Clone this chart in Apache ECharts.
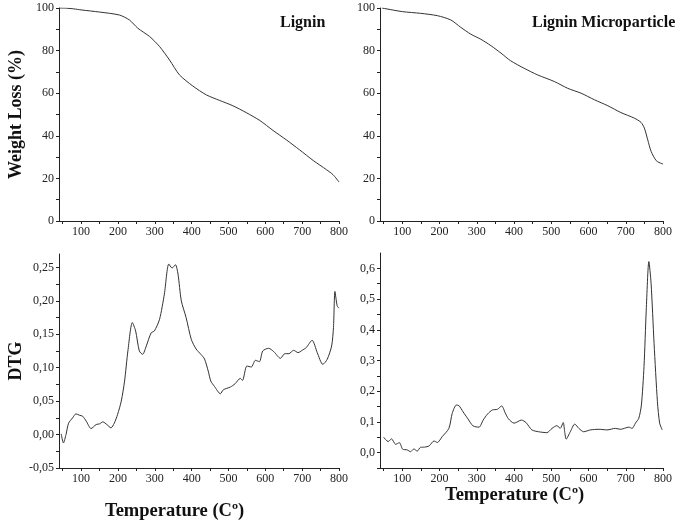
<!DOCTYPE html>
<html>
<head>
<meta charset="utf-8">
<script src="https://cdn.jsdelivr.net/npm/echarts@6/dist/echarts.min.js"></script>
<style>
html,body{margin:0;padding:0;background:#fff;}
#c{width:685px;height:524px;}
</style>
</head>
<body>
<div id="c"></div>
<script>
// ---- Data ----
var tgaLigninT = [41,60,80,100,150,204,231,254,286,313,340,367,403,440,476,512,548,585,621,657,693,730,766,784,800];
var tgaLigninV = [100,99.9,99.6,99.1,98.1,96.7,94.4,90.5,86.6,81.9,75.6,68.6,63.4,59.2,56.6,54.1,50.9,47.2,42.5,38.1,33.4,28.4,24.1,21.7,18.3];

var tgaMicroT = [45,100,149,194,230,257,284,311,338,365,391,427,463,508,544,580,616,652,687,723,741,750,759,768,782,797,800];
var tgaMicroV = [100,98.3,97.5,96.4,94.4,90.9,87.7,85.3,82.3,78.8,75.2,71.7,68.6,65.5,62.3,60,56.9,54.1,50.9,48.3,46.3,43.6,38.1,32.7,28.3,26.9,26.8];

var dtgLigninT = [46,52,59,66,77,86,95,104,114,127,141,150,159,170,181,190,199,209,218,227,239,248,258,267,277,290,299,313,326,338,347,356,363,372,385,399,412,425,435,445,452,462,478,486,505,518,532,538,550,562,573,584,593,609,623,641,653,664,677,689,700,711,727,741,756,768,780,785,789,795,800];
var dtgLigninV = [0.001,-0.0125,0,0.017,0.025,0.031,0.029,0.0275,0.02,0.009,0.015,0.016,0.019,0.015,0.01,0.017,0.03,0.05,0.08,0.125,0.1675,0.155,0.125,0.12,0.1325,0.152,0.155,0.1725,0.21,0.255,0.249,0.254,0.24,0.2,0.175,0.1425,0.128,0.12,0.113,0.095,0.08,0.072,0.061,0.067,0.071,0.076,0.084,0.081,0.1025,0.101,0.111,0.109,0.125,0.129,0.124,0.114,0.121,0.121,0.126,0.1225,0.126,0.13,0.141,0.1225,0.105,0.1125,0.1325,0.16,0.214,0.1925,0.189];

var dtgMicroT = [50,62,71,82,92,101,113,122,131,140,149,160,172,185,194,207,225,234,245,252,263,275,290,306,317,329,342,355,367,376,385,400,420,432,448,466,488,502,515,524,532,536,540,551,563,574,587,605,628,650,672,686,708,717,726,735,742,749,755,762,768,776,785,791,798];
var dtgMicroV = [0.05,0.036,0.045,0.027,0.0325,0.011,0.009,0.003,0.012,0.005,0.0175,0.018,0.022,0.038,0.033,0.052,0.079,0.128,0.155,0.153,0.133,0.112,0.087,0.083,0.106,0.126,0.139,0.141,0.152,0.13,0.11,0.096,0.106,0.098,0.074,0.068,0.065,0.079,0.088,0.079,0.098,0.068,0.044,0.068,0.093,0.079,0.068,0.074,0.076,0.074,0.079,0.076,0.083,0.079,0.096,0.112,0.155,0.28,0.464,0.622,0.551,0.356,0.166,0.096,0.074];

var xLabelValues = [100,200,300,400,500,600,700,800];
var xTickValues = [50,100,150,200,250,300,350,400,450,500,550,600,650,700,750,800];
var tgaLabelValues = [0,20,40,60,80,100];
var tgaTickValues = [0,10,20,30,40,50,60,70,80,90,100];
var dtgLigninLabels = [-0.05,0,0.05,0.1,0.15,0.2,0.25];
var dtgLigninTicks = [-0.05,-0.025,0,0.025,0.05,0.075,0.1,0.125,0.15,0.175,0.2,0.225,0.25];
var dtgMicroLabels = [0,0.1,0.2,0.3,0.4,0.5,0.6];
var dtgMicroTicks = [-0.05,0,0.05,0.1,0.15,0.2,0.25,0.3,0.35,0.4,0.45,0.5,0.55,0.6];

function zip(a,b){return a.map(function(v,i){return [v,b[i]];});}

var SERIF = '"Liberation Serif","DejaVu Serif",serif';
var lineCol = '#222';
var labelStyle = {fontFamily: SERIF, fontSize: 12, color: '#222'};

function xAx(gi){
  return {
    type:'value', gridIndex: gi, min:40, max:800,
    axisLine:{show:true, onZero:false, lineStyle:{color:lineCol,width:1}},
    axisTick:{show:true, inside:false, length:3, customValues:xTickValues, lineStyle:{color:lineCol}},
    axisLabel:Object.assign({margin:5, customValues:xLabelValues}, labelStyle),
    splitLine:{show:false}
  };
}
function yAx(gi, min, max, labels, ticks, fmt, name){
  var o = {
    type:'value', gridIndex: gi, min:min, max:max,
    axisLine:{show:true, onZero:false, lineStyle:{color:lineCol,width:1}},
    axisTick:{show:true, inside:false, length:3, customValues:ticks, lineStyle:{color:lineCol}},
    axisLabel:Object.assign({margin:5, customValues:labels, formatter:fmt}, labelStyle),
    splitLine:{show:false}
  };
  if (name) {
    o.name = name; o.nameLocation = 'middle'; o.nameGap = 34;
    o.nameTextStyle = {fontFamily: SERIF, fontSize: 18, fontWeight:'bold', color:'#111'};
  }
  return o;
}
function fmtInt(v){return String(Math.round(v));}
function fmt2(v){return (Math.abs(v)<1e-9?0:v).toFixed(2).replace('.',',');}
function fmt1(v){return (Math.abs(v)<1e-9?0:v).toFixed(1).replace('.',',');}

function ser(xi, d){
  return {type:'line', xAxisIndex:xi, yAxisIndex:xi, data:d, showSymbol:false, symbol:'none',
    smooth:0.25, lineStyle:{color:'#333', width:1}, animation:false};
}

var chart = echarts.init(document.getElementById('c'), null, {renderer:'canvas'});
chart.setOption({
  animation:false,
  backgroundColor:'#fff',
  grid:[
    {left:59, top:8, width:280, height:213},
    {left:380, top:8, width:283, height:213},
    {left:59, top:254, width:280, height:214},
    {left:380, top:253, width:283, height:215}
  ],
  title:[
    {text:'Lignin', left:275, top:10, textStyle:{fontFamily:SERIF, fontSize:16, fontWeight:'bold', color:'#111'}},
    {text:'Lignin Microparticle', left:527, top:10, textStyle:{fontFamily:SERIF, fontSize:16, fontWeight:'bold', color:'#111'}}
  ],
  xAxis:[xAx(0), xAx(1), xAx(2), xAx(3)],
  yAxis:[
    yAx(0, 0, 100, tgaLabelValues, tgaTickValues, fmtInt, 'Weight Loss (%)'),
    yAx(1, 0, 100, tgaLabelValues, tgaTickValues, fmtInt, null),
    yAx(2, -0.05, 0.27, dtgLigninLabels, dtgLigninTicks, fmt2, 'DTG'),
    yAx(3, -0.05, 0.65, dtgMicroLabels, dtgMicroTicks, fmt1, null)
  ],
  graphic:[
    {type:'text', left:105, top:502, style:{text:'Temperature (C\u00ba)', font:'bold 18.5px '+SERIF, fill:'#111'}},
    {type:'text', left:445, top:486, style:{text:'Temperature (C\u00ba)', font:'bold 18.5px '+SERIF, fill:'#111'}}
  ],
  series:[
    ser(0, zip(tgaLigninT, tgaLigninV)),
    ser(1, zip(tgaMicroT, tgaMicroV)),
    ser(2, zip(dtgLigninT, dtgLigninV)),
    ser(3, zip(dtgMicroT, dtgMicroV))
  ]
});
</script>
</body>
</html>
